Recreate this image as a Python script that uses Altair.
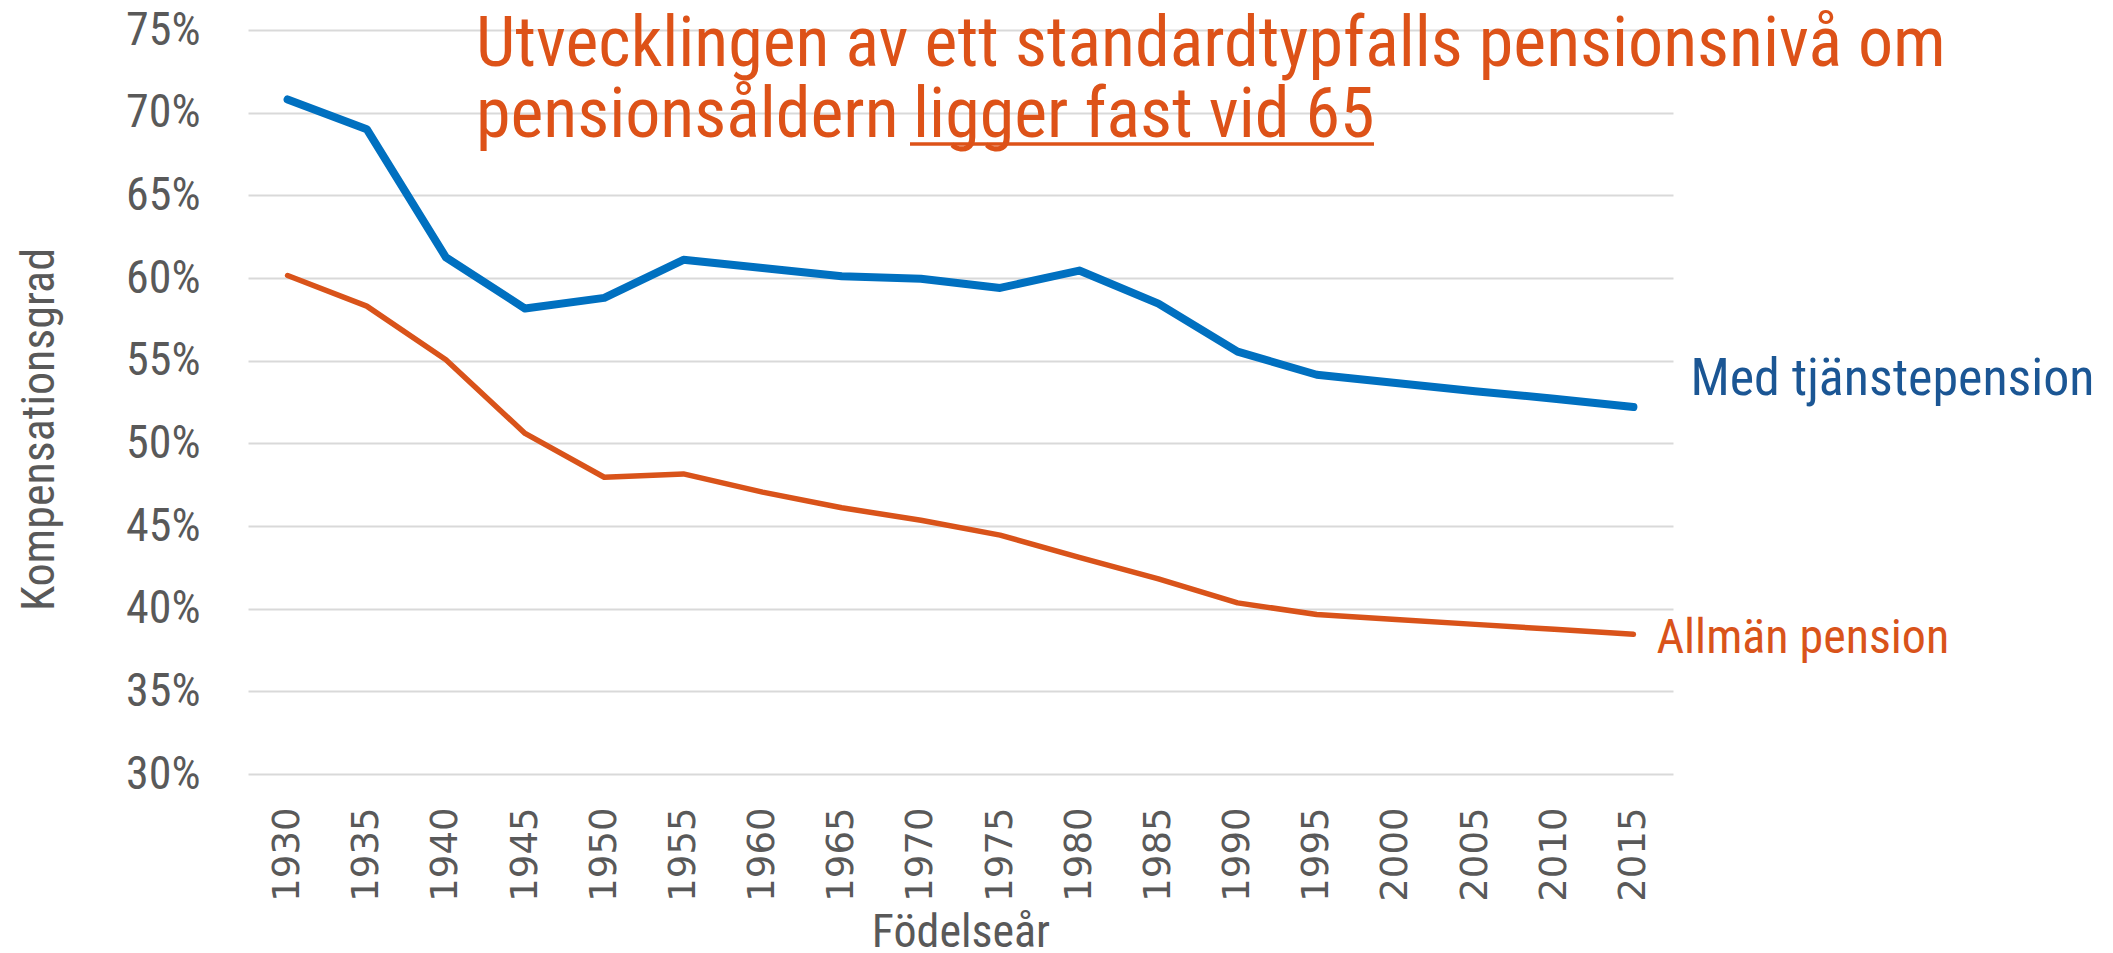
import altair as alt
import pandas as pd

# ---- data ----
years = [1930, 1935, 1940, 1945, 1950, 1955, 1960, 1965, 1970, 1975,
         1980, 1985, 1990, 1995, 2000, 2005, 2010, 2015]
med_tjanstepension = [70.8, 69.0, 61.25, 58.15, 58.8, 61.1, 60.6, 60.1, 59.95, 59.4,
                      60.45, 58.45, 55.55, 54.15, 53.65, 53.15, 52.7, 52.2]
allman_pension = [60.15, 58.3, 55.05, 50.6, 47.95, 48.15, 47.05, 46.1, 45.35, 44.45,
                  43.1, 41.8, 40.35, 39.65, 39.35, 39.05, 38.75, 38.45]
series_names = ["Med tjänstepension", "Allmän pension"]
y_ticks = [0.30, 0.35, 0.40, 0.45, 0.50, 0.55, 0.60, 0.65, 0.70, 0.75]
title_line1 = "Utvecklingen av ett standardtypfalls pensionsnivå om"
title_line2a = "pensionsåldern"
title_line2b = "ligger fast vid 65"

rows = []
for yr, a, b in zip(years, med_tjanstepension, allman_pension):
    rows.append({"year": yr, "series": series_names[0], "value": a / 100})
    rows.append({"year": yr, "series": series_names[1], "value": b / 100})
df = pd.DataFrame(rows)

last_med = pd.DataFrame([{"year": years[-1], "value": med_tjanstepension[-1] / 100, "label": series_names[0]}])
last_all = pd.DataFrame([{"year": years[-1], "value": allman_pension[-1] / 100, "label": series_names[1]}])

NARROW = "Roboto Condensed, Liberation Sans Narrow, DejaVu Sans Condensed, Liberation Sans, sans-serif"
GREY = "#595959"
BLUE = "#0070C0"
ORANGE = "#D9531A"
TITLE_ORANGE = "#DD5218"

W, H = 1425, 744

xscale = alt.Scale(type="point", padding=0.5)
yscale = alt.Scale(domain=[0.30, 0.75], nice=False, zero=False)

x_enc = alt.X("year:O", scale=xscale, title="Födelseår",
              axis=alt.Axis(labelAngle=-90, labelFont="DejaVu Sans", labelFontSize=37,
                            labelColor=GREY, labelPadding=33, domain=False, ticks=False,
                            grid=False, titleFont=NARROW, titleFontSize=46,
                            titleFontWeight="normal", titleColor=GREY,
                            titleX=W / 2, titleY=172, titleAlign="center",
                            titleBaseline="alphabetic"))
y_enc = alt.Y("value:Q", scale=yscale, title="Kompensationsgrad",
              axis=alt.Axis(values=y_ticks, format=".0%", labelFont=NARROW, labelFontSize=46,
                            labelColor=GREY, labelPadding=48, domain=False, ticks=False,
                            grid=True, gridColor="#D9D9D9", gridWidth=2,
                            titleFont=NARROW, titleFontSize=46, titleFontWeight="normal",
                            titleColor=GREY, titleX=-195, titleY=399,
                            titleBaseline="alphabetic", titleAlign="center", titleAngle=-90))

lines = alt.Chart(df).mark_line(strokeCap="round", strokeJoin="round").encode(
    x=x_enc,
    y=y_enc,
    color=alt.Color("series:N", scale=alt.Scale(domain=series_names, range=[BLUE, ORANGE]), legend=None),
    strokeWidth=alt.StrokeWidth("series:N", scale=alt.Scale(domain=series_names, range=[8, 5.5]), legend=None),
)

lab_med = alt.Chart(last_med).mark_text(align="left", baseline="alphabetic", dx=57, dy=-12,
                                        font=NARROW, fontSize=52, color="#1B5694").encode(
    x=alt.X("year:O", scale=xscale), y=alt.Y("value:Q", scale=yscale), text="label:N")
lab_all = alt.Chart(last_all).mark_text(align="left", baseline="alphabetic", dx=23, dy=19,
                                        font=NARROW, fontSize=48, color=ORANGE).encode(
    x=alt.X("year:O", scale=xscale), y=alt.Y("value:Q", scale=yscale), text="label:N")

tdf = pd.DataFrame([{"t1": title_line1, "t2a": title_line2a, "t2b": title_line2b}])
t1 = alt.Chart(tdf).mark_text(align="left", baseline="alphabetic", font=NARROW, fontSize=70,
                              color=TITLE_ORANGE).encode(x=alt.value(228), y=alt.value(35.5), text="t1:N")
t2a = alt.Chart(tdf).mark_text(align="left", baseline="alphabetic", font=NARROW, fontSize=70,
                               color=TITLE_ORANGE).encode(x=alt.value(228), y=alt.value(107), text="t2a:N")
t2b = alt.Chart(tdf).mark_text(align="left", baseline="alphabetic", font=NARROW, fontSize=70,
                               color=TITLE_ORANGE).encode(x=alt.value(665), y=alt.value(107), text="t2b:N")
uline = alt.Chart(tdf).mark_rule(color=TITLE_ORANGE, strokeWidth=3.5).encode(
    x=alt.value(662), x2=alt.value(1126), y=alt.value(114))

chart = alt.layer(lines, lab_med, lab_all, t1, t2a, t2b, uline).properties(
    width=W, height=H,
    padding={"left": 240, "top": 22, "right": 432, "bottom": 179},
    autosize=alt.AutoSizeParams(type="none"),
    background="white",
).configure_view(stroke=None)

chart.save("out.html", embed_options={"renderer": "svg", "actions": False})
